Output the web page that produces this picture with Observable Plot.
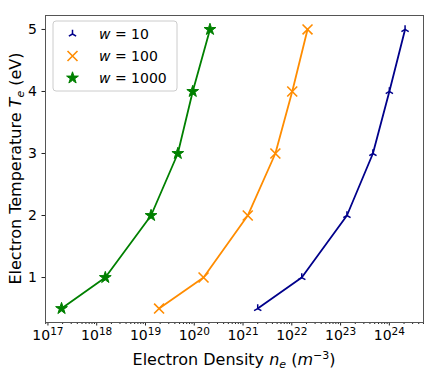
<!DOCTYPE html>
<html><head><meta charset="utf-8">
<script src="https://cdn.jsdelivr.net/npm/d3@7"></script>
<script src="https://cdn.jsdelivr.net/npm/@observablehq/plot@0.6"></script>
<style>body{margin:0;background:#fff}</style>
</head><body><div id="chart"></div>
<script>
// Data
const temps = [0.5, 1, 2, 3, 4, 5];                 // Electron temperature (eV)
const ne_w10   = [2.0e21, 1.6e22, 1.35e23, 4.6e23, 1.0e24, 2.1e24];
const ne_w100  = [1.9e19, 1.55e20, 1.25e21, 4.6e21, 1.02e22, 2.1e22];
const ne_w1000 = [1.9e17, 1.5e18, 1.3e19, 4.6e19, 9.3e19, 2.1e20];
const seriesW = ["10", "100", "1000"];
const xTickExps = [17, 18, 19, 20, 21, 22, 23, 24];
const yTicks = [1, 2, 3, 4, 5];

const colors = ["#00008b", "#ff8c00", "#008000"];
const W = 436, H = 373;
const mL = 45, mT = 15, mR = 13, mB = 51;

const seriesVals = [ne_w10, ne_w100, ne_w1000];
const rows = [];
seriesVals.forEach((vals, i) => vals.forEach((v, j) => rows.push({s: i, w: seriesW[i], T: temps[j], ne: v})));

const xDomain = [Math.pow(10, 16.95), Math.pow(10, 24.7)];
const majors = xTickExps.map(e => Number("1e" + e));
const minors = [];
for (let e = 16; e <= 24; e++) for (let k = 2; k <= 9; k++) {
  const v = Number(k + "e" + e);
  if (v > xDomain[0] && v < xDomain[1]) minors.push(v);
}

// custom tri_up symbol (matplotlib '2')
const triUp = {
  draw(ctx, size) {
    const r = Math.sqrt(size / Math.PI);
    const c = Math.cos(Math.PI / 6), s = 0.5;
    ctx.moveTo(0, 0); ctx.lineTo(0, -r);
    ctx.moveTo(0, 0); ctx.lineTo(-r * c, r * s);
    ctx.moveTo(0, 0); ctx.lineTo(r * c, r * s);
  }
};

const marks = [
  Plot.axisX(minors, {tickSize: 2, tickFormat: () => "", stroke: "#222", label: null}),
  Plot.axisX(majors, {tickSize: 3.5, tickPadding: 4, fontSize: 14, stroke: "#222", fill: "#000",
    tickFormat: d => "10^" + Math.round(Math.log10(d)), label: null}),
  Plot.axisY(yTicks, {tickSize: 3.5, tickPadding: 5, fontSize: 14, stroke: "#222", fill: "#000",
    tickFormat: d => String(d), label: null}),
];
const markSpecs = [
  {symbol: triUp, r: 4.2, fill: "none", stroke: colors[0], strokeWidth: 1.5},
  {symbol: "times", r: 4.6, fill: "none", stroke: colors[1], strokeWidth: 1.6},
  {symbol: "star", r: 3.7, fill: colors[2], stroke: colors[2], strokeWidth: 1},
];
[0, 1, 2].forEach(i => {
  const d = rows.filter(r => r.s === i);
  marks.push(Plot.line(d, {x: "ne", y: "T", stroke: colors[i], strokeWidth: 1.8}));
  marks.push(Plot.dot(d, {x: "ne", y: "T", ...markSpecs[i]}));
});
marks.push(Plot.frame({stroke: "#555", strokeWidth: 1}));

const svgEl = Plot.plot({
  width: W, height: H,
  marginLeft: mL, marginTop: mT, marginRight: mR, marginBottom: mB,
  style: {fontFamily: "DejaVu Sans", fontSize: "14px", background: "#fff", color: "#000"},
  x: {type: "log", domain: xDomain, axis: null},
  y: {domain: [0.275, 5.225], axis: null},
  marks
});
document.getElementById("chart").appendChild(svgEl);

const svg = d3.select(svgEl);
const ff = "DejaVu Sans";

// turn "10^17" tick texts into 10 with a superscript exponent
svg.selectAll("text").each(function() {
  const t = this.textContent;
  const m = /^10\^(\d+)$/.exec(t);
  if (!m) return;
  const sel = d3.select(this);
  sel.text("");
  sel.append("tspan").text("10");
  sel.append("tspan").attr("font-size", 10.5).attr("dy", "-0.45em").text(m[1]);
});

// X label
const xl = svg.append("text").attr("x", (mL + W - mR) / 2).attr("y", 365)
  .attr("text-anchor", "middle").attr("font-family", ff).attr("font-size", 16).attr("fill", "#000");
xl.append("tspan").text("Electron Density ");
xl.append("tspan").attr("font-style", "italic").text("n");
xl.append("tspan").attr("font-style", "italic").attr("font-size", 11).attr("dy", 3).text("e");
xl.append("tspan").attr("dy", -3).text(" (");
xl.append("tspan").attr("font-style", "italic").text("m");
xl.append("tspan").attr("font-size", 11).attr("dy", -6).text("−3");
xl.append("tspan").attr("dy", 6).text(")");
// Y label
const yl = svg.append("text").attr("transform", `translate(20.5,${(mT + H - mB) / 2}) rotate(-90)`)
  .attr("text-anchor", "middle").attr("font-family", ff).attr("font-size", 16).attr("fill", "#000");
yl.append("tspan").text("Electron Temperature ");
yl.append("tspan").attr("font-style", "italic").text("T");
yl.append("tspan").attr("font-style", "italic").attr("font-size", 11).attr("dy", 3).text("e");
yl.append("tspan").attr("dy", -3).text(" (eV)");

// Legend
const lg = svg.append("g");
lg.append("rect").attr("x", 53).attr("y", 21).attr("width", 124).attr("height", 70).attr("rx", 3)
  .attr("fill", "#fff").attr("fill-opacity", 0.8).attr("stroke", "#ccc");
const legSym = [triUp, d3.symbolTimes, d3.symbolStar];
seriesW.forEach((w, i) => {
  const cy = 34 + i * 22;
  const spec = markSpecs[i];
  lg.append("path").attr("transform", `translate(72.5,${cy})`)
    .attr("d", d3.symbol(legSym[i], Math.PI * spec.r * spec.r)())
    .attr("fill", spec.fill).attr("stroke", spec.stroke).attr("stroke-width", spec.strokeWidth);
  const t = lg.append("text").attr("x", 99).attr("y", cy + 5).attr("text-anchor", "start")
    .attr("font-family", ff).attr("font-size", 14).attr("fill", "#000");
  t.append("tspan").attr("font-style", "italic").text("w");
  t.append("tspan").text(" = " + w);
});
</script></body></html>
